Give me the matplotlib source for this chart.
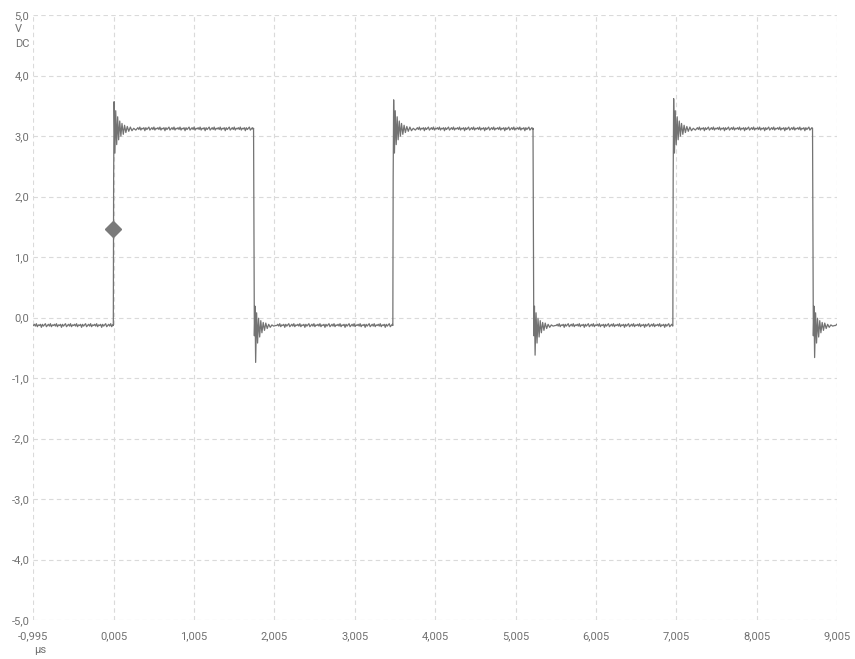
import matplotlib.pyplot as plt
import numpy as np

# edge times (us)
rise_times = [0.000, 3.478, 6.962]
fall_times = [1.745, 5.222, 8.700]
rise_peaks = [3.57, 3.60, 3.62]
fall_dips = [-0.74, -0.62, -0.66]

# ringing after a rising edge (offset us, volts)
rise_ring_dt = [0.000, 0.004, 0.010, 0.020, 0.030, 0.042, 0.054, 0.066, 0.080, 0.094,
                0.108, 0.124, 0.140, 0.156, 0.174, 0.192, 0.212, 0.232, 0.254, 0.280]
rise_ring_v = [-0.13, 2.30, 3.57, 2.72, 3.42, 2.86, 3.32, 2.94, 3.25, 3.00,
               3.21, 3.03, 3.18, 3.06, 3.16, 3.08, 3.15, 3.09, 3.13, 3.10]

# ringing after a falling edge (offset us, volts)
fall_ring_dt = [0.000, 0.004, 0.010, 0.018, 0.026, 0.038, 0.050, 0.062, 0.076, 0.090,
                0.104, 0.120, 0.136, 0.152, 0.170, 0.188, 0.208, 0.228, 0.250, 0.276]
fall_ring_v = [3.13, 1.65, -0.30, 0.19, -0.74, 0.08, -0.42, -0.01, -0.32, -0.05,
               -0.25, -0.08, -0.21, -0.09, -0.18, -0.11, -0.16, -0.12, -0.14, -0.13]

# small noise on the flat levels (volts)
high_level = 3.12
low_level = -0.13
level_noise = [0.00, 0.02, -0.01, 0.03, -0.02, 0.01, 0.00, 0.02, -0.03, 0.02,
               -0.01, 0.01, 0.03, -0.02, 0.00, 0.02, -0.01, 0.03, -0.02, 0.01]

marker_t, marker_v = 0.0, 1.47

x_ticks = [-0.995, 0.005, 1.005, 2.005, 3.005, 4.005, 5.005, 6.005, 7.005, 8.005, 9.005]
y_ticks = [-5.0, -4.0, -3.0, -2.0, -1.0, 0.0, 1.0, 2.0, 3.0, 4.0, 5.0]

step = 0.0125


def flat(t0, t1, level):
    ts = np.arange(t0, t1, step)
    vs = [level + level_noise[i % len(level_noise)] for i in range(len(ts))]
    return list(ts), vs


t_all, v_all = [], []
ts, vs = flat(-0.995, rise_times[0], low_level)
t_all += ts; v_all += vs
for i in range(3):
    tr = rise_times[i]
    rv = list(rise_ring_v); rv[2] = rise_peaks[i]
    t_all += [tr + d for d in rise_ring_dt]; v_all += rv
    ts, vs = flat(tr + rise_ring_dt[-1] + step, fall_times[i], high_level)
    t_all += ts; v_all += vs
    tf = fall_times[i]
    fv = list(fall_ring_v); fv[4] = fall_dips[i]
    t_all += [tf + d for d in fall_ring_dt]; v_all += fv
    end = rise_times[i + 1] if i < 2 else 9.005
    ts, vs = flat(tf + fall_ring_dt[-1] + step, end, low_level)
    t_all += ts; v_all += vs

fig = plt.figure(figsize=(8.55, 6.59), dpi=100)
ax = fig.add_axes([0.039, 0.059, 0.940, 0.918])

ax.plot(t_all, v_all, color='#737373', lw=0.9)
ax.plot([marker_t], [marker_v], 'D', color='#7a7a7a', ms=8, mec='#7a7a7a')

ax.set_xlim(x_ticks[0], x_ticks[-1])
ax.set_ylim(y_ticks[0], y_ticks[-1])
ax.set_xticks(x_ticks)
ax.set_yticks(y_ticks)
ax.set_xticklabels([f"{x:.3f}".replace('.', ',') for x in x_ticks])
ax.set_yticklabels([f"{y:.1f}".replace('.', ',') for y in y_ticks])
ax.grid(True, ls=(0, (4, 3)), color='#dadada', lw=0.8)
ax.set_axisbelow(True)
for s in ax.spines.values():
    s.set_visible(False)
ax.tick_params(length=0, labelsize=8, colors='#707070', pad=3)
ax.tick_params(axis='x', pad=8)
for lab in ax.get_xticklabels() + ax.get_yticklabels():
    lab.set_family('Roboto')

fig.text(15 / 855, 1 - 29 / 659, "V", fontsize=8, color='#707070', family='Roboto', va='center')
fig.text(15 / 855, 1 - 44 / 659, "DC", fontsize=8, color='#707070', family='Roboto', va='center')
fig.text(40 / 855, 1 - 650 / 659, "µs", fontsize=8, color='#707070', family='Roboto', va='center', ha='center')

fig.savefig("out.png", dpi=100)
